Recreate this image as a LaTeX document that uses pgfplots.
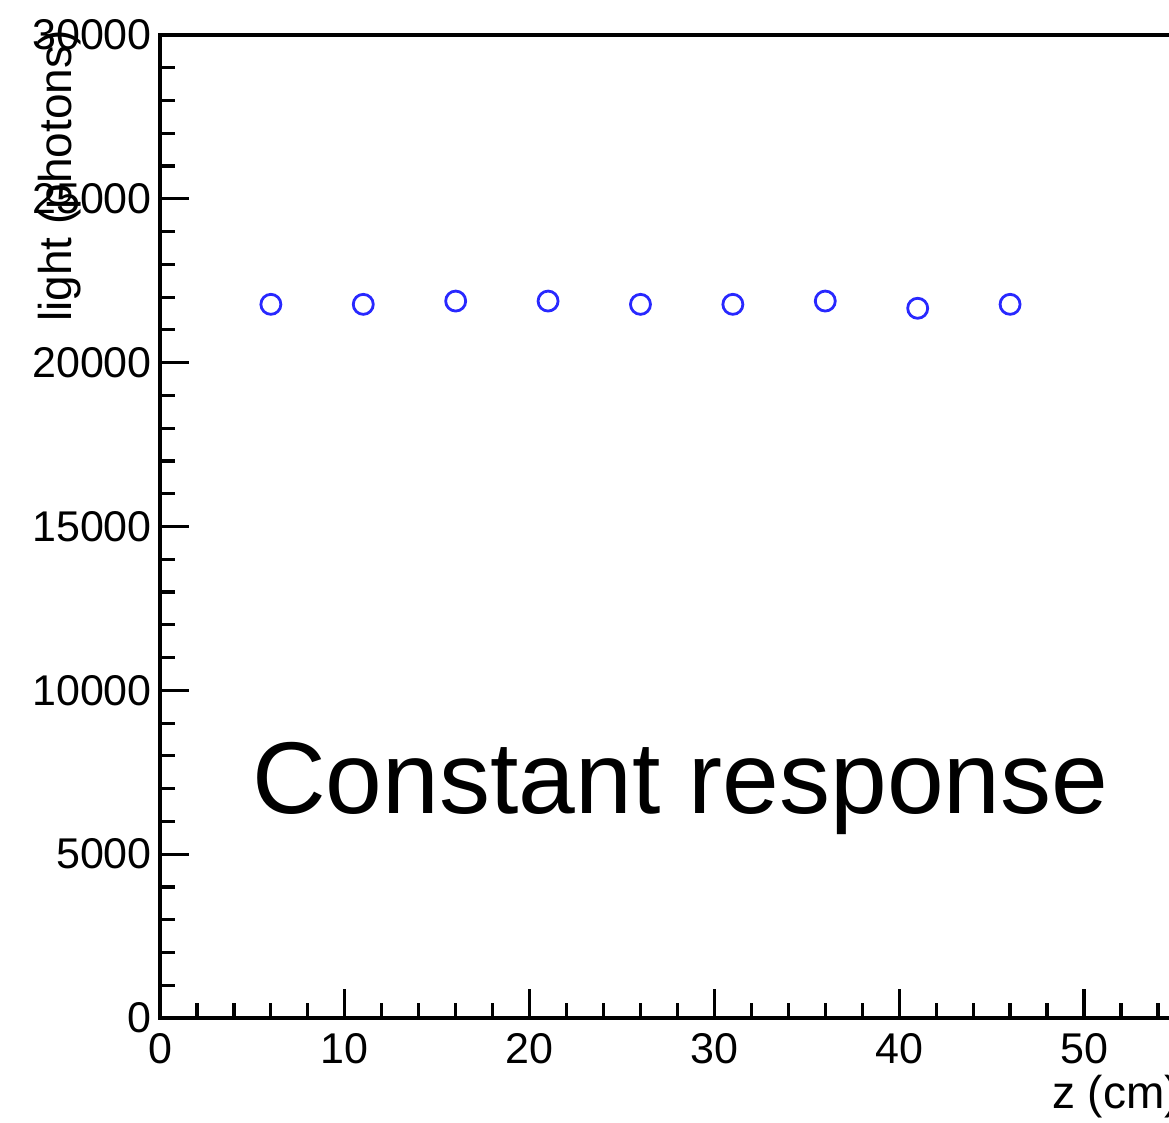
\documentclass[border=0pt]{standalone}
\usepackage{pgfplots}
\pgfplotsset{compat=1.18}
\usepackage{fontspec}
\setmainfont{Liberation Sans}
\begin{document}
\begin{tikzpicture}
\useasboundingbox (-160pt,-104pt) rectangle (1009pt,1018pt);
\clip (-160pt,-104pt) rectangle (1009pt,1018pt);
\begin{axis}[
  at={(0pt,0pt)}, anchor=south west,
  scale only axis,
  width=1108.8pt, height=983pt,
  xmin=0, xmax=60, ymin=0, ymax=30000,
  xtick={0,10,20,30,40,50,60},
  ytick={0,5000,10000,15000,20000,25000,30000},
  minor x tick num=4, minor y tick num=4,
  xtick pos=bottom, ytick pos=left,
  tick align=inside,
  major tick length=29pt, minor tick length=15pt,
  axis line style={line width=3.5pt, black},
  every tick/.style={line width=3.2pt, black},
  /pgf/number format/assume math mode=true,
  scaled y ticks=false,
  yticklabel style={/pgf/number format/1000 sep={}, font=\fontsize{43}{50}\selectfont, anchor=east, inner sep=0pt, xshift=-8pt},
  xticklabel style={font=\fontsize{43}{50}\selectfont, anchor=north, inner sep=0pt, yshift=-15pt},
  xlabel={z (cm)},
  xlabel style={font=\fontsize{46}{52}\selectfont, at={(axis description cs:0.92,0)}, anchor=base east, inner sep=0pt, yshift=-90pt},
  ylabel={light (photons)},
  ylabel style={font=\fontsize{46}{52}\selectfont, at={(axis description cs:-0.080,1.005)}, anchor=base east, inner sep=0pt, rotate=0},
  clip=false,
]
\addplot[only marks, mark=o, mark size=10pt, color={rgb,255:red,40;green,40;blue,255}, mark options={line width=2.8pt}] coordinates {
(6,21780) (11,21780) (16,21880) (21,21880) (26,21780) (31,21780) (36,21880) (41,21660) (46,21780)
};
\node[anchor=base west, inner sep=0pt, font=\fontsize{102}{110}\selectfont] at (axis cs:4.98,6256) {Constant response};
\end{axis}
\end{tikzpicture}
\end{document}
